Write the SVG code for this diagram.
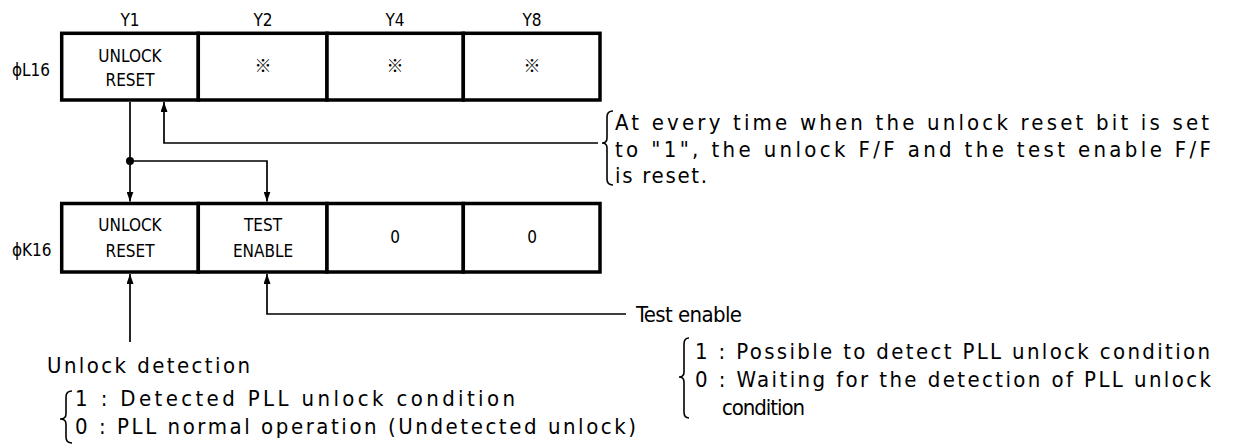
<svg xmlns="http://www.w3.org/2000/svg" width="1237" height="447" viewBox="0 0 1237 447">
<style>
.cell{fill:#fff;stroke:#000;stroke-width:3.5}
.sm{font-family:"DejaVu Sans Condensed","DejaVu Sans",sans-serif;font-stretch:condensed;font-size:17px;fill:#000;text-anchor:middle}
.lb{font-family:"DejaVu Sans Condensed","DejaVu Sans",sans-serif;font-stretch:condensed;font-size:17px;fill:#000}
.big{font-family:"DejaVu Sans Condensed","DejaVu Sans",sans-serif;font-stretch:condensed;font-size:22px;fill:#000}
.mk{font-family:"Noto Sans CJK JP",sans-serif;font-size:17px;fill:#000;text-anchor:middle}
.ln{fill:none;stroke:#000;stroke-width:1.7}
.br{fill:none;stroke:#000;stroke-width:1.6}
</style>
<defs>
<marker id="arr" markerUnits="userSpaceOnUse" markerWidth="10" markerHeight="7" refX="10" refY="3.5" orient="auto">
<path d="M0,0 L10,3.5 L0,7 Z" fill="#000"/>
</marker>
</defs>
<g id="col-labels">
<text class="sm" x="130" y="26">Y1</text>
<text class="sm" x="263" y="26">Y2</text>
<text class="sm" x="395" y="26">Y4</text>
<text class="sm" x="532" y="26">Y8</text>
</g>
<g id="row-L16">
<text class="lb" x="12" y="76">ϕL16</text>
<g id="L16-Y1"><rect class="cell" x="61.7" y="33.3" width="136.6" height="66.7"/><text class="sm" x="130" y="62">UNLOCK</text><text class="sm" x="130" y="86">RESET</text></g>
<g id="L16-Y2"><rect class="cell" x="198.3" y="33.3" width="128.7" height="66.7"/><text class="mk" x="263" y="72">※</text></g>
<g id="L16-Y4"><rect class="cell" x="327" y="33.3" width="136.3" height="66.7"/><text class="mk" x="395" y="72">※</text></g>
<g id="L16-Y8"><rect class="cell" x="463.3" y="33.3" width="136.7" height="66.7"/><text class="mk" x="532" y="72">※</text></g>
</g>
<g id="row-K16">
<text class="lb" x="12" y="256">ϕK16</text>
<g id="K16-Y1"><rect class="cell" x="61.7" y="203.5" width="136.6" height="68.5"/><text class="sm" x="130" y="231">UNLOCK</text><text class="sm" x="130" y="257">RESET</text></g>
<g id="K16-Y2"><rect class="cell" x="198.3" y="203.5" width="128.7" height="68.5"/><text class="sm" x="263" y="231">TEST</text><text class="sm" x="263" y="257">ENABLE</text></g>
<g id="K16-Y4"><rect class="cell" x="327" y="203.5" width="136.3" height="68.5"/><text class="sm" x="395" y="243">0</text></g>
<g id="K16-Y8"><rect class="cell" x="463.3" y="203.5" width="136.7" height="68.5"/><text class="sm" x="532" y="243">0</text></g>
</g>
<g id="connectors">
<path class="ln" d="M130,102 V201.5" marker-end="url(#arr)"/>
<path class="ln" d="M130,161 H267 V201.5" marker-end="url(#arr)"/>
<circle cx="130" cy="161" r="4" fill="#000"/>
<path class="ln" d="M598,143 H164 V102" marker-end="url(#arr)"/>
<path class="ln" d="M130,342 V274" marker-end="url(#arr)"/>
<path class="ln" d="M626,314 H267 V274" marker-end="url(#arr)"/>
</g>
<g id="note-reset">
<path class="br" d="M613,111 Q607,111 607,117 V138 Q607,143 602,143 Q607,143 607,148 V179 Q607,185 613,185"/>
<text class="big" x="615" y="130" textLength="594" lengthAdjust="spacing">At every time when the unlock reset bit is set</text>
<text class="big" x="615" y="157" textLength="596" lengthAdjust="spacing">to "1", the unlock F/F and the test enable F/F</text>
<text class="big" x="615" y="183" textLength="92" lengthAdjust="spacing">is reset.</text>
</g>
<g id="note-test-enable">
<text class="big" x="636" y="322" textLength="106" lengthAdjust="spacing">Test enable</text>
<path class="br" d="M689,338 Q684,338 684,344 V372 Q684,377 679,377 Q684,377 684,382 V412 Q684,418 689,418"/>
<text class="big" x="695" y="359" textLength="515" lengthAdjust="spacing">1 :  Possible to detect PLL unlock condition</text>
<text class="big" x="695" y="387" textLength="516" lengthAdjust="spacing">0 :  Waiting for the detection of PLL unlock</text>
<text class="big" x="722" y="415" textLength="83" lengthAdjust="spacing">condition</text>
</g>
<g id="note-unlock-detection">
<text class="big" x="47" y="373" textLength="203" lengthAdjust="spacing">Unlock detection</text>
<path class="br" d="M72,391 Q66,391 66,397 V414 Q66,419 60,419 Q66,419 66,424 V437 Q66,443 72,443"/>
<text class="big" x="75" y="406" textLength="440" lengthAdjust="spacing">1 :  Detected PLL unlock condition</text>
<text class="big" x="75" y="434" textLength="561" lengthAdjust="spacing">0 :  PLL normal operation (Undetected unlock)</text>
</g>
</svg>
